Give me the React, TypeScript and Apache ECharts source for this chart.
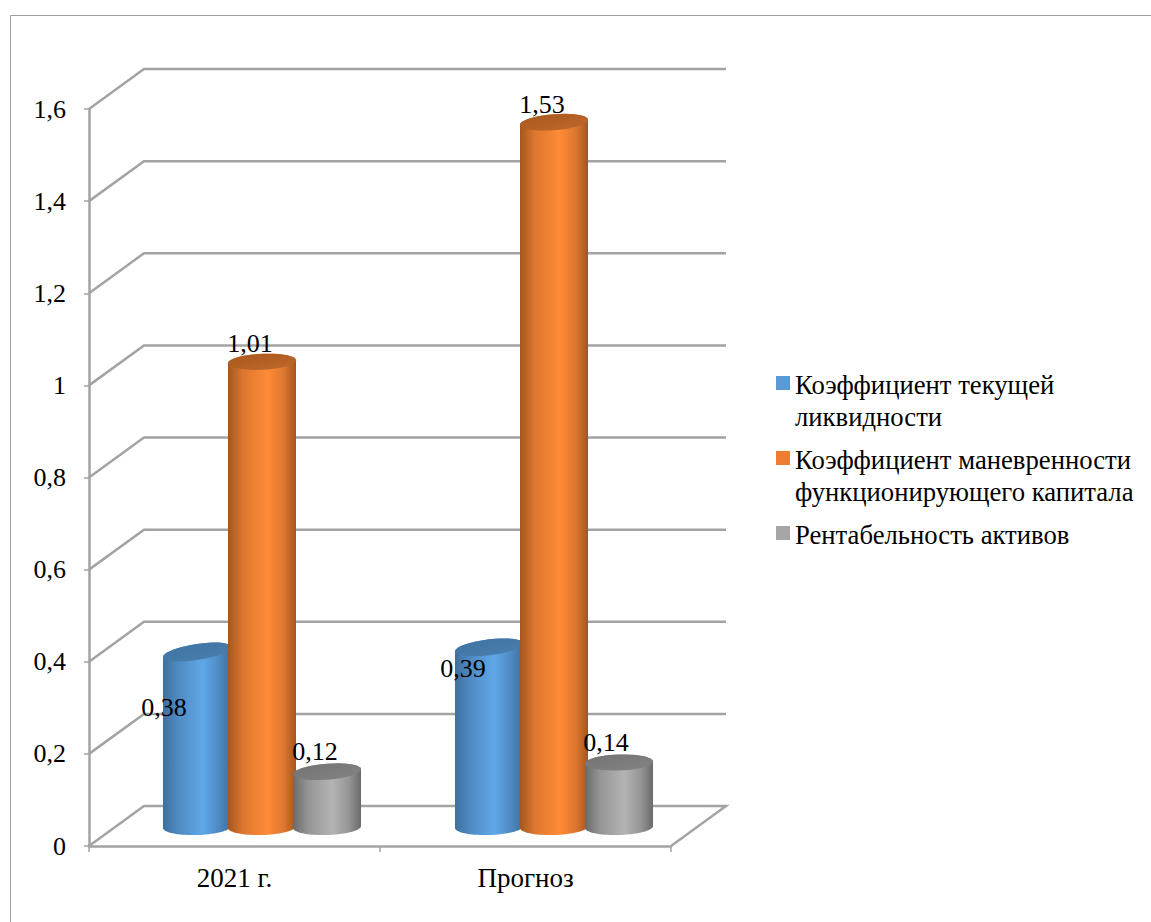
import React, { useEffect, useRef } from "react";
import * as echarts from "echarts";

const categories = ["2021 г.", "Прогноз"];
const yTicks = [0, 0.2, 0.4, 0.6, 0.8, 1, 1.2, 1.4, 1.6];
const seriesNames = [
  "Коэффициент текущей ликвидности",
  "Коэффициент маневренности функционирующего капитала",
  "Рентабельность активов",
];
const currentLiquidity = [0.38, 0.39];
const workingCapital = [1.01, 1.53];
const assetReturn = [0.12, 0.14];
const legendLines: Record<string, string> = {
  [seriesNames[0]]: "Коэффициент текущей\nликвидности",
  [seriesNames[1]]: "Коэффициент маневренности\nфункционирующего капитала",
  [seriesNames[2]]: "Рентабельность активов\n ",
};

const FONT = '"Liberation Serif", "Times New Roman", serif';
const GRID_COLOR = "#a3a3a3";
const DEPTH_X = 55;
const DEPTH_Y = -40;
const BAR_DEPTH_Y = -19;
const BAR_STEP = 65;
const BAR_RX = 34;
const BAR_RY = 8;
const groupNudge = [0, 1];

const palettes = [
  { legend: "#5b9bd5", edge: "#3d6f9e", mid: "#4f8ac2", light: "#60a7e8", topA: "#3f729f", topB: "#4a80b0" },
  { legend: "#ed7d31", edge: "#a3561f", mid: "#dd772f", light: "#ff8b36", topA: "#a8581f", topB: "#c0682a" },
  { legend: "#a5a5a5", edge: "#6a6a6a", mid: "#959595", light: "#b4b4b4", topA: "#737373", topB: "#848484" },
];
const topTilts = [
  [-5, -4],
  [-1.5, -2.5],
  [-2.5, -1],
];
const labelShifts = [
  [[-33, 56], [-26, 21]],
  [[-12, -18], [-12, -18]],
  [[-12, -20], [-13, -20]],
];

const fmt = (v: number) => String(v).replace(".", ",");

function halfEllipse(cx: number, cy: number, tilt: number, from: number, to: number) {
  const pts: number[][] = [];
  const steps = 36;
  for (let i = 0; i <= steps; i++) {
    const t = from + ((to - from) * i) / steps;
    pts.push([cx + BAR_RX * Math.cos(t), cy + BAR_RY * Math.sin(t) + tilt * Math.cos(t)]);
  }
  return pts;
}

function cylinderSeries(idx: number, values: number[]) {
  const p = palettes[idx];
  const bodyFill = {
    type: "linear", x: 0, y: 0, x2: 1, y2: 0,
    colorStops: [
      { offset: 0, color: p.edge },
      { offset: 0.22, color: p.mid },
      { offset: 0.58, color: p.light },
      { offset: 0.82, color: p.mid },
      { offset: 1, color: p.edge },
    ],
  };
  const topFill = {
    type: "linear", x: 0, y: 0, x2: 1, y2: 1,
    colorStops: [
      { offset: 0, color: p.topA },
      { offset: 1, color: p.topB },
    ],
  };
  return {
    type: "custom",
    name: seriesNames[idx],
    coordinateSystem: "cartesian2d",
    itemStyle: { color: p.legend },
    z: 10 + idx,
    clip: false,
    silent: true,
    data: values.map((v, i) => [i, v]),
    renderItem: (_: any, api: any) => {
      const cat = api.value(0);
      const val = api.value(1);
      const top = api.coord([cat, val]);
      const base = api.coord([cat, 0]);
      const cx = top[0] + DEPTH_X / 2 + (idx - 1) * BAR_STEP + groupNudge[cat];
      const topY = top[1] + BAR_DEPTH_Y;
      const baseY = base[1] + BAR_DEPTH_Y;
      const tilt = topTilts[idx][cat];
      const body = [
        ...halfEllipse(cx, topY, tilt, Math.PI, 2 * Math.PI),
        ...halfEllipse(cx, baseY, -1, 0, Math.PI),
      ];
      const cap = halfEllipse(cx, topY, tilt, 0, 2 * Math.PI);
      const shift = labelShifts[idx][cat];
      return {
        type: "group",
        children: [
          { type: "polygon", shape: { points: body }, style: { fill: bodyFill } },
          { type: "polygon", shape: { points: cap }, style: { fill: topFill } },
          {
            type: "text",
            x: cx + shift[0],
            y: topY + shift[1],
            style: {
              text: fmt(val),
              fill: "#000",
              font: `26px ${FONT}`,
              align: "center",
              verticalAlign: "middle",
            },
          },
        ],
      };
    },
  };
}

const wallSeries = {
  type: "custom",
  name: "walls",
  coordinateSystem: "cartesian2d",
  z: 1,
  clip: false,
  silent: true,
  data: yTicks.map((v) => [0, v]),
  renderItem: (params: any, api: any) => {
    const y = api.coord([0, api.value(1)])[1];
    const left = params.coordSys.x;
    const right = left + params.coordSys.width;
    const points = [
      [left, y],
      [left + DEPTH_X, y + DEPTH_Y],
      [right + DEPTH_X, y + DEPTH_Y],
    ];
    if (api.value(1) === 0) points.push([right, y]);
    return {
      type: "polyline",
      shape: { points },
      style: { stroke: GRID_COLOR, lineWidth: 2.5, fill: "none" },
    };
  },
};

export default function App() {
  const ref = useRef<HTMLDivElement>(null);
  useEffect(() => {
    const chart = echarts.init(ref.current!, null, { renderer: "svg" });
    chart.setOption({
      animation: false,
      backgroundColor: "#fff",
      grid: { left: 89, top: 109, width: 582, height: 737 },
      xAxis: {
        type: "category",
        data: categories,
        axisLine: { lineStyle: { color: GRID_COLOR, width: 2.5 } },
        axisTick: { show: true, length: 6, alignWithLabel: false, lineStyle: { color: GRID_COLOR, width: 1.5 } },
        axisLabel: { color: "#000", fontFamily: FONT, fontSize: 27, margin: 18 },
        splitLine: { show: false },
      },
      yAxis: {
        type: "value",
        min: 0,
        max: 1.6,
        interval: 0.2,
        axisLine: { show: true, lineStyle: { color: GRID_COLOR, width: 2.5 } },
        axisTick: { show: true, length: 5, lineStyle: { color: GRID_COLOR, width: 1.5 } },
        axisLabel: { color: "#000", fontFamily: FONT, fontSize: 26, margin: 23, padding: [7, 0, 0, 0], formatter: (v: number) => fmt(v) },
        splitLine: { show: false },
      },
      legend: {
        orient: "vertical",
        left: 776,
        top: 369,
        padding: 0,
        itemWidth: 14,
        itemHeight: 64,
        itemGap: 11,
        itemTextGap: 6,
        selectedMode: false,
        icon: "path://M0 0L0 0M0 64L0 64M0 7L14 7L14 21L0 21Z",
        data: seriesNames,
        formatter: (n: string) => legendLines[n],
        textStyle: { color: "#000", fontFamily: FONT, fontSize: 26.7, lineHeight: 32 },
      },
      graphic: [
        { type: "line", shape: { x1: 10.5, y1: 15.5, x2: 1151, y2: 15.5 }, style: { stroke: "#a0a0a0", lineWidth: 1 }, silent: true },
        { type: "line", shape: { x1: 10.5, y1: 15.5, x2: 10.5, y2: 922 }, style: { stroke: "#a0a0a0", lineWidth: 1 }, silent: true },
      ],
      series: [
        wallSeries,
        cylinderSeries(0, currentLiquidity),
        cylinderSeries(1, workingCapital),
        cylinderSeries(2, assetReturn),
      ],
    });
    return () => chart.dispose();
  }, []);
  return <div ref={ref} style={{ position: "absolute", left: 0, top: 0, width: 1151, height: 922 }} />;
}
